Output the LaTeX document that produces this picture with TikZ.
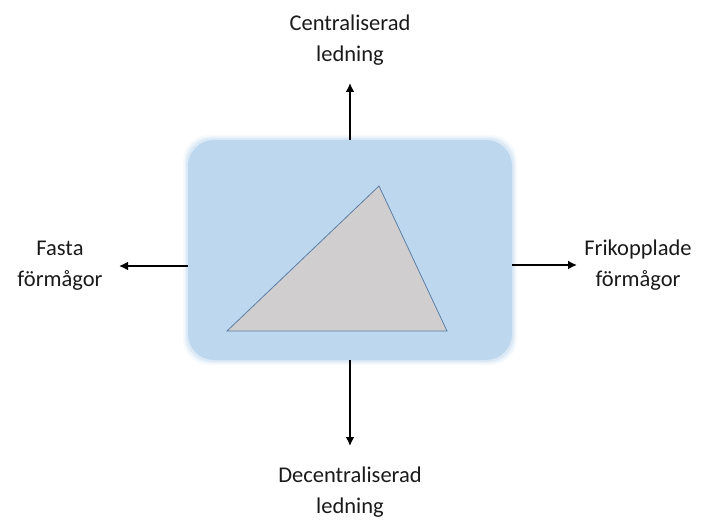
\documentclass[tikz,border=0pt]{standalone}
\usepackage{fontspec}
\setmainfont{Carlito}
\usetikzlibrary{arrows.meta}
\definecolor{panelblue}{HTML}{BDD7EE}
\definecolor{trigray}{HTML}{D0CECE}
\definecolor{triedge}{HTML}{5B7FA6}
\definecolor{labeltext}{HTML}{1A1A1A}
\tikzset{
  panel/.style={draw=none, fill=panelblue, rounded corners=26pt},
  label/.style={align=center, font=\fontsize{22.5}{31}\selectfont, text=labeltext, inner sep=0pt},
  flow/.style={line width=2.2pt, -{Latex[length=9pt,width=9pt]}},
}
\begin{document}
\begin{tikzpicture}[x=1pt,y=-1pt]
  \useasboundingbox (0,0) rectangle (712,521);
  % soft halo around the panel
  \foreach \g/\o in {5/0.12,3.5/0.2,2/0.35}{
    \fill[panelblue, opacity=\o, rounded corners=26pt]
      (188-\g,140-\g) rectangle (512+\g,360+\g);
  }
  % central panel
  \node[panel, minimum width=324pt, minimum height=220pt, inner sep=0pt]
    (panel) at (350,250) {};
  % triangle inside the panel
  \filldraw[fill=trigray, draw=triedge, line width=0.8pt, line join=miter]
    (379,186) -- (447,331) -- (227,331) -- cycle;
  % direction labels
  \node[label] (top)    at (350,40)  {Centraliserad\\ledning};
  \node[label] (bottom) at (350,492) {Decentraliserad\\ledning};
  \node[label] (left)   at (60,266)  {Fasta\\förmågor};
  \node[label] (right)  at (638,265) {Frikopplade\\förmågor};
  % arrow end points
  \coordinate (topend)    at (350,83);
  \coordinate (bottomend) at (350,446);
  \coordinate (leftend)   at (119,266);
  \coordinate (rightend)  at (577,265);
  \draw[flow] (panel.north) -- (topend);
  \draw[flow] (panel.south) -- (bottomend);
  \draw[flow] (panel.west |- leftend) -- (leftend);
  \draw[flow] (panel.east |- rightend) -- (rightend);
\end{tikzpicture}
\end{document}
